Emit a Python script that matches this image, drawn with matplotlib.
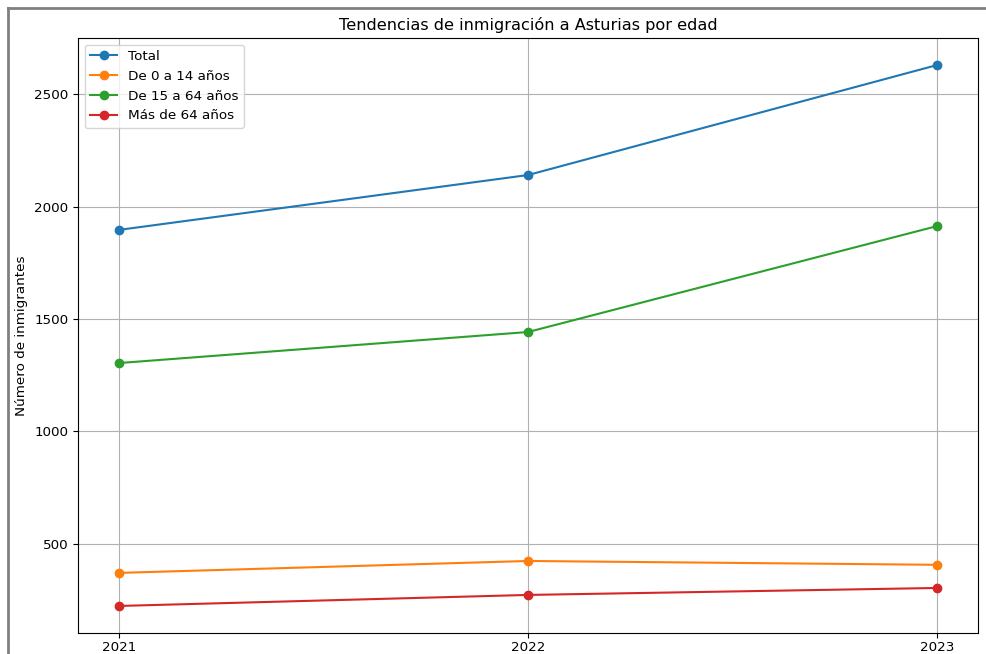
import matplotlib.pyplot as plt
from matplotlib.lines import Line2D

# Datos
years = [2021, 2022, 2023]
total = [1896, 2140, 2629]
de_0_a_14 = [371, 424, 407]
de_15_a_64 = [1304, 1442, 1913]
mas_de_64 = [224, 273, 304]
series_labels = ['Total', 'De 0 a 14 años', 'De 15 a 64 años', 'Más de 64 años']

# la captura viene un poco reducida
plt.rcParams['font.size'] = 9.7

fig = plt.figure(figsize=(9.86, 6.54), dpi=100)
ax = fig.add_axes([78 / 986, 1 - 633 / 654, 900 / 986, 595 / 654])

for values, label in zip([total, de_0_a_14, de_15_a_64, mas_de_64], series_labels):
    ax.plot(years, values, marker='o', label=label)

ax.set_title('Tendencias de inmigración a Asturias por edad', fontsize=11.6)
ax.set_ylabel('Número de inmigrantes')
ax.set_xticks(years)
ax.tick_params(axis='x', pad=2.5)
ax.grid(True)
ax.legend(loc='upper left')

# marco gris de la captura
fig.add_artist(Line2D([7.5 / 986, 7.5 / 986], [0, 1 - 7.5 / 654], color='#808080', lw=2))
fig.add_artist(Line2D([7.5 / 986, 1], [1 - 7.5 / 654, 1 - 7.5 / 654], color='#808080', lw=2))

fig.savefig('out.png', dpi=100)
